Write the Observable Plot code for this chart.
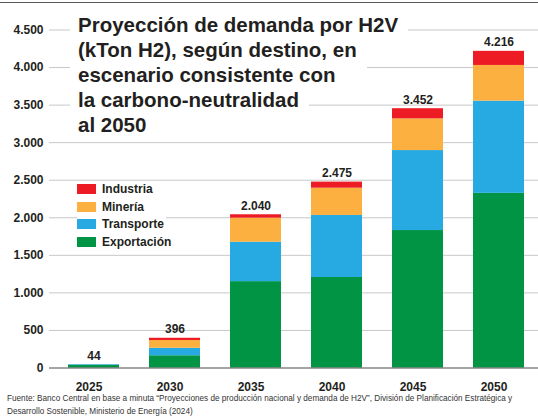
<!DOCTYPE html>
<html>
<head>
<meta charset="utf-8">
<script src="https://cdn.jsdelivr.net/npm/d3@7"></script>
<script src="https://cdn.jsdelivr.net/npm/@observablehq/plot@0.6"></script>
<style>
  html, body { margin: 0; padding: 0; background: #fff; }
  body { width: 538px; height: 416px; overflow: hidden; font-family: "Liberation Sans", Arial, sans-serif; color: #231f20; }
  #wrap { position: relative; width: 538px; height: 416px; }
  #topline { position: absolute; left: 0; top: 2px; width: 538px; height: 0; border-top: 1px solid #5a5a5a; }
  #chart { position: absolute; left: 0; top: 0; }
  #title { position: absolute; left: 70px; top: 18.2px; font-weight: bold; font-size: 20.5px; color: #231f20; }
  #title .line { width: fit-content; background: #fff; line-height: 14px; padding: 0 10px 11px 8px; white-space: nowrap; }
  #title .line.last { padding-bottom: 7px; }
  #legend { position: absolute; left: 77px; top: 180.5px; }
  #legend .row { display: flex; align-items: center; height: 17.5px; width: fit-content; background: #fff; padding-right: 2px; font-size: 12px; font-weight: bold; color: #231f20; }
  #legend .sw { width: 19px; height: 10px; margin-right: 6px; }
  #caption { position: absolute; left: 7px; top: 392px; font-size: 8.2px; line-height: 13px; color: #333; white-space: nowrap; }
</style>
</head>
<body>
<div id="wrap">
  <div id="chart"></div>
  <div id="topline"></div>
  <div id="title"></div>
  <div id="legend"></div>
  <div id="caption"></div>
</div>
<script>
// ---- data ----
const years = ["2025", "2030", "2035", "2040", "2045", "2050"];
const categories = ["Exportación", "Transporte", "Minería", "Industria"];
const colors = ["#009444", "#27AAE1", "#FBB040", "#ED1C24"];
const exportacion = [33, 163, 1150, 1205, 1830, 2325];
const transporte = [10, 100, 525, 826, 1065, 1228];
const mineria = [1, 103, 320, 363, 422, 475];
const industria = [0, 30, 45, 81, 135, 188];
const totals = [44, 396, 2040, 2475, 3452, 4216];
const yTicks = [0, 500, 1000, 1500, 2000, 2500, 3000, 3500, 4000, 4500];
const titleLines = ["Proyección de demanda por H2V", "(kTon H2), según destino, en", "escenario consistente con", "la carbono-neutralidad", "al 2050"];
const captionLines = [
  "Fuente: Banco Central en base a minuta “Proyecciones de producción nacional y demanda de H2V”, División de Planificación Estratégica y",
  "Desarrollo Sostenible, Ministerio de Energía (2024)"
];
const legendOrder = ["Industria", "Minería", "Transporte", "Exportación"];

// ---- build ----
const series = [exportacion, transporte, mineria, industria];
const rows = [];
years.forEach((yr, i) => {
  categories.forEach((c, k) => rows.push({year: yr, category: c, value: series[k][i]}));
});
const totalRows = years.map((yr, i) => ({year: yr, total: totals[i]}));

const loc = d3.formatLocale({decimal: ",", thousands: ".", grouping: [3], currency: ["$", ""]});
const fmt = loc.format(",d");

const chart = Plot.plot({
  width: 538,
  height: 397,
  marginLeft: 49,
  marginRight: 0,
  marginTop: 29.5,
  marginBottom: 29.5,
  style: {fontFamily: "'Liberation Sans', Arial, sans-serif", color: "#231f20", background: "transparent"},
  x: {domain: years, paddingInner: 0.375, paddingOuter: 0.184, align: 0.567},
  y: {domain: [0, 4500]},
  color: {domain: categories, range: colors},
  marks: [
    Plot.ruleY(yTicks.filter(d => d > 0), {stroke: "#c8c8c8", strokeWidth: 1}),
    Plot.barY(rows, Plot.stackY({x: "year", y: "value", fill: "category", order: null})),
    Plot.ruleY([0], {stroke: "#4a4a4a", strokeWidth: 1}),
    Plot.text(totalRows, {x: "year", y: "total", text: d => fmt(d.total), dy: -9, fontSize: 12, fontWeight: "bold", fill: "#231f20"}),
    Plot.axisY({ticks: yTicks, tickFormat: fmt, tickSize: 0, tickPadding: 6, fontSize: 12, fontWeight: "bold", fill: "#231f20", label: null}),
    Plot.axisX({tickSize: 0, tickPadding: 14, fontSize: 12, fontWeight: "bold", fill: "#231f20", dx: -5, label: null})
  ]
});
document.getElementById("chart").appendChild(chart);

// title
const t = document.getElementById("title");
titleLines.forEach((s, i) => {
  const d = document.createElement("div");
  d.className = "line" + (i === titleLines.length - 1 ? " last" : "");
  d.textContent = s;
  t.appendChild(d);
});

// legend
const lg = document.getElementById("legend");
legendOrder.forEach(name => {
  const r = document.createElement("div");
  r.className = "row";
  const sw = document.createElement("div");
  sw.className = "sw";
  sw.style.background = colors[categories.indexOf(name)];
  const tx = document.createElement("span");
  tx.textContent = name;
  r.appendChild(sw); r.appendChild(tx);
  lg.appendChild(r);
});

// caption
const cap = document.getElementById("caption");
captionLines.forEach(s => {
  const d = document.createElement("div");
  d.textContent = s;
  cap.appendChild(d);
});
</script>
</body>
</html>
